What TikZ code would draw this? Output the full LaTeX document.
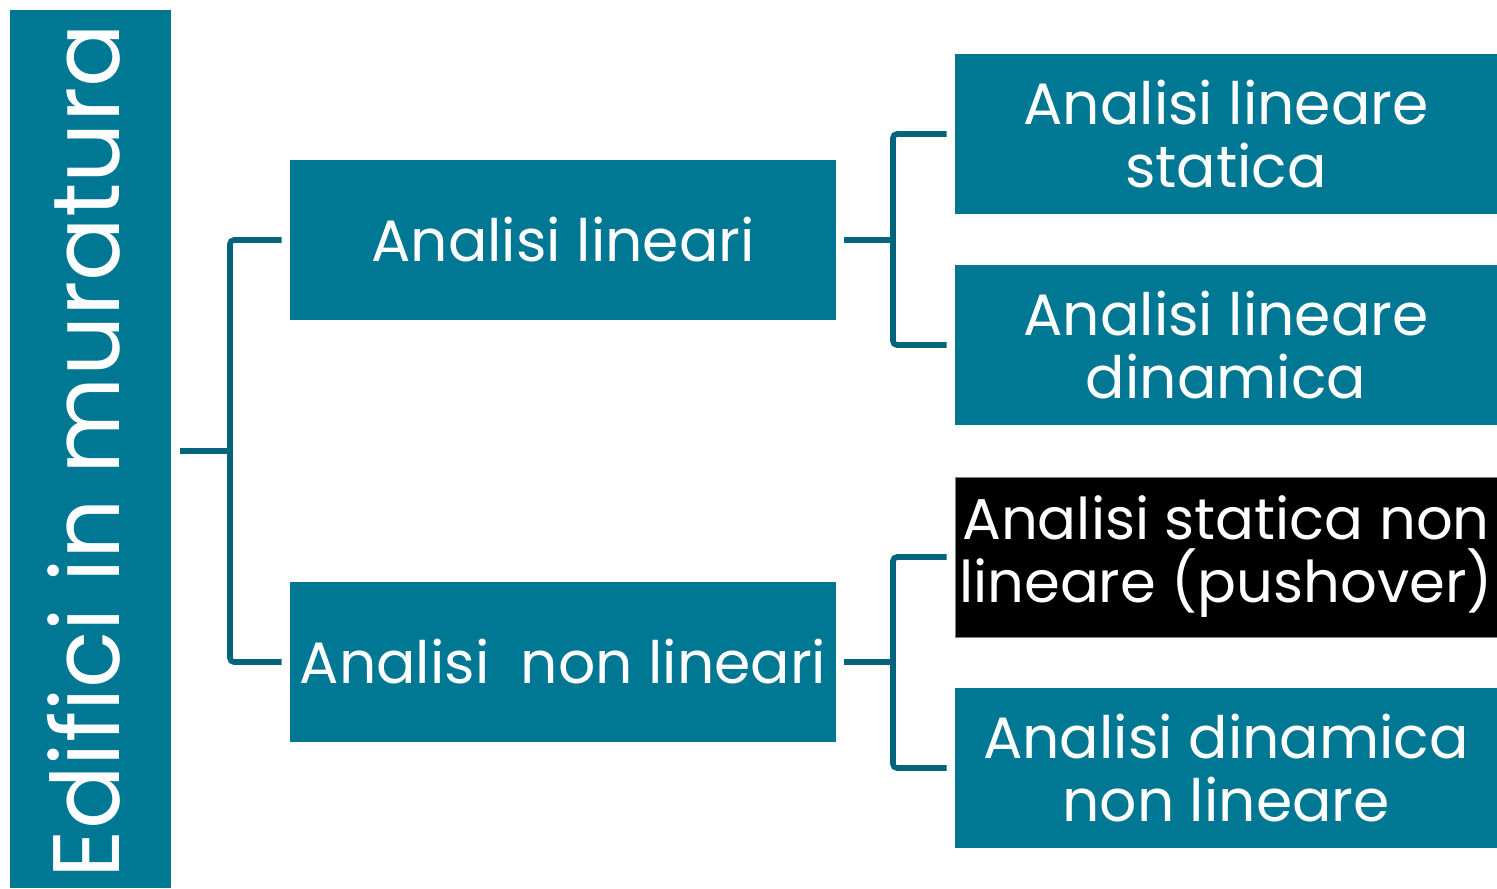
\documentclass[tikz,border=0pt]{standalone}
\usepackage{fontspec}
\setmainfont{Poppins}
\definecolor{teal}{HTML}{007894}
\definecolor{conn}{HTML}{03647C}
\tikzset{
  box/.style={fill=teal, draw=none, text=white, inner sep=0pt, align=center,
    minimum width=271pt, minimum height=80pt, font=\fontsize{29.2}{31.5}\selectfont},
  midbox/.style={box, minimum width=273pt},
  blackbox/.style={box, fill=black, draw=gray, line width=0.5pt, font=\fontsize{28.8}{31.5}\selectfont},
  connline/.style={draw=conn, line width=2.8pt, rounded corners=2pt},
}
\begin{document}
\begin{tikzpicture}[x=0.5pt,y=-0.5pt]
\useasboundingbox (0,0) rectangle (1497,888);
\node[fill=teal, minimum width=80.5pt, minimum height=439pt, inner sep=0pt] (L) at (90.5,449) {};
\node[rotate=90, anchor=base, text=white, inner sep=0pt, font=\fontsize{47.2}{47}\selectfont] (Lt) at (119,451) {Edifici in muratura};
\node[midbox] (A1) at (563,240) {Analisi lineari};
\node[midbox] (A2) at (563,662) {Analisi~ non lineari};
\node[box] (R1) at (1226,134) {Analisi lineare\\statica};
\node[box] (R2) at (1226,345) {Analisi lineare\\dinamica};
\node[blackbox] (R3) at (1226,557) {Analisi statica non\\lineare (pushover)};
\node[box] (R4) at (1226,768) {Analisi dinamica\\non lineare};
\coordinate (j0) at (230,451);
\coordinate (j1) at (893,240);
\coordinate (j2) at (893,662);
\draw[connline] ([xshift=4.5pt]L.east |- j0) -- (j0);
\draw[connline] ([xshift=-4pt]A1.west) -| (j0) |- ([xshift=-4pt]A2.west);
\draw[connline] ([xshift=4pt]A1.east) -- (j1);
\draw[connline] ([xshift=-4pt]R1.west) -| (j1) |- ([xshift=-4pt]R2.west);
\draw[connline] ([xshift=4pt]A2.east) -- (j2);
\draw[connline] ([xshift=-4pt]R3.west) -| (j2) |- ([xshift=-4pt]R4.west);
\end{tikzpicture}
\end{document}
